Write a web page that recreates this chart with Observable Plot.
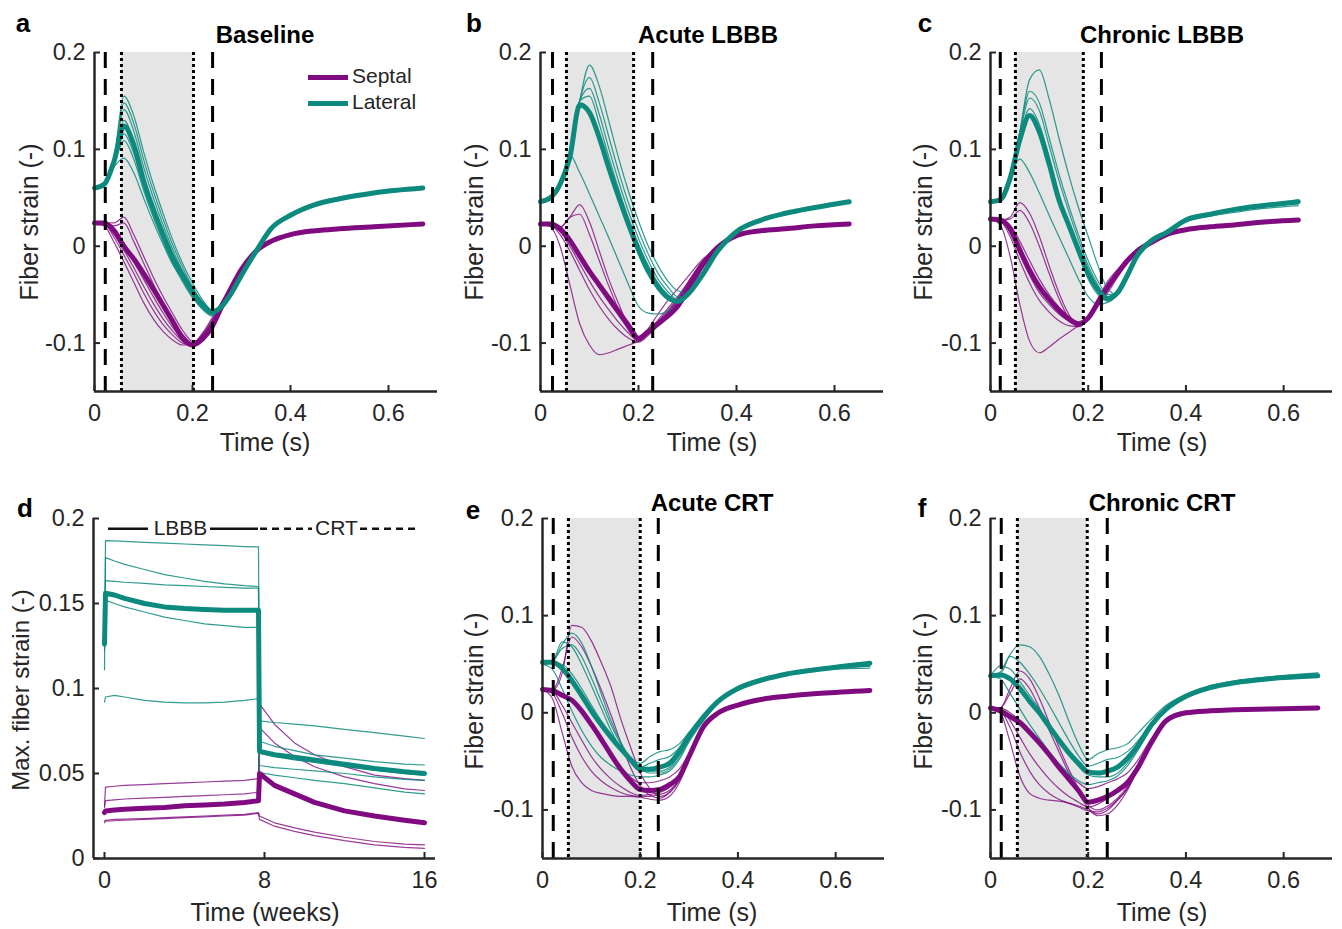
<!DOCTYPE html>
<html>
<head>
<meta charset="utf-8">
<script src="https://cdn.jsdelivr.net/npm/d3@7"></script>
<script src="https://cdn.jsdelivr.net/npm/@observablehq/plot@0.6"></script>
<style>
  html, body { margin: 0; padding: 0; background: #fff; }
  #root { position: relative; width: 1342px; height: 929px; background: #fff; overflow: hidden;
          font-family: 'Liberation Sans', Arial, Helvetica, sans-serif; color: #262626; }
  .lbl { position: absolute; white-space: nowrap; transform: translate(-50%, -50%); }
  .ylbl { position: absolute; white-space: nowrap; transform: translate(-50%, -50%) rotate(-90deg); }
  svg { position: absolute; }
</style>
</head>
<body>
<div id="root"></div>
<script>
// ---------------- DATA ----------------
const PURPLE = "#800a80";
const TEAL = "#0c8a7d";
const strainTicksX = [0, 0.2, 0.4, 0.6];
const strainTicksY = [-0.1, 0, 0.1, 0.2];
const strainDomainX = [0, 0.7];
const strainDomainY = [-0.15, 0.2];

// time grids (s)
const tA = [0,.02,.04,.06,.08,.10,.12,.14,.16,.18,.20,.22,.24,.26,.28,.30,.33,.36,.40,.45,.50,.57,.67];
const tB = [0,.02,.04,.06,.08,.10,.12,.14,.16,.18,.20,.22,.24,.26,.28,.30,.33,.36,.40,.45,.50,.56,.63];
const tC = tB;
const tE = tA;
const tF = tA;

// ---- a: Baseline
const aSeptMean = [0.024,0.024,0.016,0.000,-0.013,-0.028,-0.044,-0.061,-0.078,-0.095,-0.102,-0.096,-0.083,-0.062,-0.042,-0.024,-0.005,0.005,0.012,0.016,0.018,0.020,0.023];
const aLatMean  = [0.060,0.064,0.088,0.124,0.105,0.068,0.038,0.012,-0.012,-0.030,-0.047,-0.060,-0.068,-0.062,-0.048,-0.030,-0.005,0.018,0.032,0.043,0.049,0.055,0.060];
const aSeptThin = [
  [0.024,0.024,0.024,0.030,0.012,-0.010,-0.032,-0.052,-0.070,-0.087,-0.098,-0.094,-0.082,-0.060,-0.041,-0.023,-0.005,0.005,0.012,0.016,0.018,0.020,0.023],
  [0.024,0.024,0.021,0.024,0.005,-0.017,-0.039,-0.059,-0.076,-0.091,-0.100,-0.095,-0.081,-0.061,-0.041,-0.023,-0.005,0.005,0.012,0.016,0.018,0.020,0.023],
  [0.024,0.021,0.004,-0.016,-0.037,-0.058,-0.075,-0.088,-0.097,-0.102,-0.101,-0.092,-0.078,-0.058,-0.040,-0.023,-0.005,0.005,0.012,0.016,0.018,0.020,0.023],
  [0.024,0.023,0.009,-0.009,-0.028,-0.048,-0.066,-0.081,-0.092,-0.100,-0.102,-0.093,-0.078,-0.059,-0.040,-0.023,-0.005,0.005,0.012,0.016,0.018,0.020,0.023],
  [0.024,0.023,0.012,-0.004,-0.022,-0.041,-0.059,-0.075,-0.088,-0.098,-0.101,-0.091,-0.076,-0.058,-0.040,-0.023,-0.005,0.005,0.012,0.016,0.018,0.020,0.023],
  [0.024,0.024,0.015,0.001,-0.016,-0.034,-0.052,-0.069,-0.084,-0.096,-0.100,-0.090,-0.074,-0.057,-0.040,-0.023,-0.005,0.005,0.012,0.016,0.018,0.020,0.023]
];
const aLatThin = [
  [0.060,0.064,0.092,0.155,0.135,0.098,0.064,0.034,0.006,-0.018,-0.038,-0.055,-0.066,-0.061,-0.047,-0.029,-0.005,0.018,0.032,0.043,0.049,0.055,0.060],
  [0.060,0.064,0.091,0.148,0.127,0.090,0.057,0.028,0.001,-0.022,-0.042,-0.058,-0.068,-0.062,-0.048,-0.030,-0.005,0.018,0.032,0.043,0.049,0.055,0.060],
  [0.060,0.064,0.090,0.141,0.119,0.082,0.050,0.022,-0.004,-0.026,-0.045,-0.060,-0.070,-0.063,-0.048,-0.030,-0.005,0.018,0.032,0.043,0.049,0.055,0.060],
  [0.060,0.064,0.088,0.130,0.108,0.072,0.042,0.015,-0.010,-0.031,-0.049,-0.063,-0.071,-0.063,-0.048,-0.030,-0.005,0.018,0.032,0.043,0.049,0.055,0.060],
  [0.060,0.064,0.086,0.116,0.096,0.063,0.035,0.009,-0.015,-0.035,-0.052,-0.065,-0.072,-0.063,-0.048,-0.030,-0.005,0.018,0.032,0.043,0.049,0.055,0.060],
  [0.060,0.064,0.085,0.109,0.090,0.058,0.030,0.005,-0.018,-0.037,-0.053,-0.064,-0.070,-0.062,-0.048,-0.030,-0.005,0.018,0.032,0.043,0.049,0.055,0.060],
  [0.060,0.064,0.082,0.091,0.076,0.050,0.025,0.002,-0.019,-0.033,-0.044,-0.058,-0.066,-0.060,-0.047,-0.029,-0.005,0.018,0.032,0.043,0.049,0.055,0.060]
];
const aDashed = [0.022, 0.241];
const aDotted = [0.055, 0.202];

// ---- b: Acute LBBB
const bSeptMean = [0.023,0.023,0.018,0.006,-0.010,-0.026,-0.040,-0.054,-0.068,-0.082,-0.095,-0.088,-0.080,-0.072,-0.062,-0.046,-0.020,-0.002,0.011,0.016,0.018,0.021,0.023];
const bLatMean  = [0.046,0.050,0.064,0.092,0.146,0.138,0.112,0.080,0.050,0.022,-0.004,-0.026,-0.042,-0.053,-0.057,-0.050,-0.030,-0.006,0.015,0.027,0.034,0.040,0.046];
const bSeptThin = [
  [0.023,0.023,0.020,0.030,0.043,0.025,-0.005,-0.035,-0.060,-0.083,-0.096,-0.088,-0.076,-0.064,-0.052,-0.038,-0.016,-0.002,0.011,0.016,0.018,0.021,0.023],
  [0.023,0.023,0.019,0.030,0.033,0.012,-0.015,-0.042,-0.066,-0.087,-0.098,-0.090,-0.080,-0.068,-0.056,-0.040,-0.017,-0.002,0.011,0.016,0.018,0.021,0.023],
  [0.023,0.020,0.000,-0.040,-0.080,-0.102,-0.112,-0.110,-0.106,-0.102,-0.098,-0.090,-0.080,-0.068,-0.055,-0.040,-0.017,-0.002,0.011,0.016,0.018,0.021,0.023],
  [0.023,0.022,0.012,-0.005,-0.025,-0.045,-0.062,-0.076,-0.087,-0.095,-0.099,-0.092,-0.082,-0.070,-0.057,-0.040,-0.017,-0.002,0.011,0.016,0.018,0.021,0.023],
  [0.023,0.022,0.015,0.000,-0.018,-0.036,-0.052,-0.066,-0.079,-0.090,-0.098,-0.090,-0.078,-0.066,-0.054,-0.038,-0.016,-0.002,0.011,0.016,0.018,0.021,0.023],
  [0.023,0.023,0.017,0.004,-0.012,-0.028,-0.043,-0.058,-0.072,-0.086,-0.096,-0.085,-0.070,-0.056,-0.044,-0.032,-0.014,-0.002,0.011,0.016,0.018,0.021,0.023]
];
const bLatThin = [
  [0.046,0.050,0.064,0.092,0.150,0.187,0.165,0.128,0.090,0.056,0.026,0.000,-0.020,-0.036,-0.046,-0.048,-0.030,-0.006,0.015,0.027,0.034,0.040,0.046],
  [0.046,0.050,0.064,0.092,0.150,0.174,0.148,0.112,0.076,0.044,0.016,-0.008,-0.028,-0.042,-0.052,-0.050,-0.030,-0.006,0.015,0.027,0.034,0.040,0.046],
  [0.046,0.050,0.064,0.092,0.150,0.163,0.136,0.100,0.066,0.035,0.008,-0.015,-0.034,-0.047,-0.055,-0.050,-0.030,-0.006,0.015,0.027,0.034,0.040,0.046],
  [0.046,0.050,0.064,0.092,0.150,0.155,0.126,0.091,0.058,0.028,0.002,-0.020,-0.038,-0.050,-0.057,-0.050,-0.030,-0.006,0.015,0.027,0.034,0.040,0.046],
  [0.046,0.050,0.066,0.094,0.076,0.054,0.031,0.008,-0.016,-0.040,-0.062,-0.069,-0.070,-0.067,-0.060,-0.050,-0.030,-0.006,0.015,0.027,0.034,0.040,0.046]
];
const bDashed = [0.0245, 0.229];
const bDotted = [0.053, 0.19];

// ---- c: Chronic LBBB
const cSeptMean = [0.028,0.027,0.018,-0.004,-0.025,-0.042,-0.055,-0.066,-0.075,-0.080,-0.074,-0.058,-0.042,-0.028,-0.015,-0.005,0.004,0.012,0.017,0.020,0.022,0.025,0.027];
const cLatMean  = [0.046,0.048,0.070,0.110,0.135,0.118,0.085,0.048,0.022,-0.004,-0.028,-0.045,-0.054,-0.048,-0.030,-0.010,0.006,0.014,0.027,0.033,0.038,0.042,0.046];
const cSeptThin = [
  [0.028,0.027,0.030,0.045,0.034,0.010,-0.020,-0.048,-0.070,-0.082,-0.076,-0.060,-0.044,-0.030,-0.016,-0.006,0.004,0.012,0.017,0.020,0.022,0.025,0.027],
  [0.028,0.027,0.028,0.037,0.024,0.000,-0.028,-0.054,-0.074,-0.083,-0.076,-0.060,-0.044,-0.030,-0.016,-0.006,0.004,0.012,0.017,0.020,0.022,0.025,0.027],
  [0.028,0.022,-0.010,-0.060,-0.098,-0.110,-0.104,-0.096,-0.089,-0.082,-0.075,-0.060,-0.045,-0.030,-0.016,-0.006,0.004,0.012,0.017,0.020,0.022,0.025,0.027],
  [0.028,0.026,0.010,-0.015,-0.038,-0.056,-0.068,-0.077,-0.082,-0.083,-0.076,-0.062,-0.048,-0.032,-0.017,-0.006,0.004,0.012,0.017,0.020,0.022,0.025,0.027],
  [0.028,0.027,0.015,-0.008,-0.030,-0.048,-0.060,-0.070,-0.077,-0.081,-0.075,-0.056,-0.040,-0.027,-0.014,-0.005,0.004,0.012,0.017,0.020,0.022,0.025,0.027],
  [0.028,0.027,0.022,0.005,-0.015,-0.034,-0.050,-0.063,-0.073,-0.080,-0.074,-0.054,-0.036,-0.024,-0.013,-0.004,0.004,0.012,0.017,0.020,0.022,0.025,0.027]
];
const cLatThin = [
  [0.046,0.048,0.068,0.118,0.172,0.182,0.152,0.112,0.074,0.040,0.010,-0.020,-0.044,-0.050,-0.034,-0.013,0.004,0.013,0.025,0.031,0.035,0.039,0.042],
  [0.046,0.048,0.070,0.118,0.160,0.148,0.112,0.075,0.042,0.012,-0.015,-0.036,-0.050,-0.048,-0.031,-0.011,0.005,0.014,0.026,0.032,0.037,0.041,0.044],
  [0.046,0.048,0.070,0.115,0.153,0.140,0.104,0.068,0.036,0.007,-0.020,-0.040,-0.053,-0.049,-0.031,-0.011,0.005,0.014,0.027,0.033,0.038,0.042,0.046],
  [0.046,0.048,0.072,0.090,0.076,0.055,0.032,0.010,-0.012,-0.034,-0.052,-0.060,-0.058,-0.050,-0.034,-0.012,0.004,0.013,0.026,0.032,0.037,0.041,0.044],
  [0.046,0.048,0.070,0.112,0.142,0.126,0.092,0.054,0.022,-0.008,-0.034,-0.050,-0.057,-0.050,-0.032,-0.011,0.005,0.014,0.027,0.033,0.038,0.043,0.048]
];
const cDashed = [0.02, 0.227];
const cDotted = [0.051, 0.19];

// ---- e: Acute CRT
const eSeptMean = [0.024,0.023,0.018,0.013,0.002,-0.012,-0.027,-0.043,-0.058,-0.070,-0.079,-0.080,-0.079,-0.074,-0.066,-0.045,-0.014,0.000,0.008,0.014,0.017,0.020,0.023];
const eLatMean  = [0.052,0.052,0.046,0.033,0.018,0.002,-0.012,-0.025,-0.037,-0.048,-0.058,-0.058,-0.056,-0.052,-0.040,-0.024,-0.004,0.012,0.025,0.034,0.040,0.045,0.051];
const eSeptThin = [
  [0.024,0.023,0.040,0.090,0.088,0.074,0.052,0.027,-0.006,-0.035,-0.062,-0.078,-0.086,-0.082,-0.068,-0.046,-0.015,0.000,0.008,0.014,0.017,0.020,0.023],
  [0.024,0.023,0.045,0.078,0.068,0.048,0.024,-0.002,-0.030,-0.056,-0.075,-0.085,-0.088,-0.082,-0.070,-0.048,-0.015,0.000,0.008,0.014,0.017,0.020,0.023],
  [0.024,0.015,-0.020,-0.055,-0.072,-0.080,-0.083,-0.085,-0.086,-0.086,-0.087,-0.089,-0.090,-0.086,-0.072,-0.048,-0.015,0.000,0.008,0.014,0.017,0.020,0.023],
  [0.024,0.020,0.000,-0.025,-0.045,-0.060,-0.070,-0.077,-0.082,-0.085,-0.086,-0.086,-0.084,-0.080,-0.068,-0.046,-0.015,0.000,0.008,0.014,0.017,0.020,0.023],
  [0.024,0.022,0.008,-0.010,-0.028,-0.045,-0.058,-0.068,-0.076,-0.082,-0.085,-0.084,-0.082,-0.077,-0.066,-0.045,-0.015,0.000,0.008,0.014,0.017,0.020,0.023],
  [0.024,0.023,0.020,0.012,0.000,-0.014,-0.028,-0.042,-0.055,-0.066,-0.072,-0.072,-0.070,-0.066,-0.058,-0.042,-0.014,0.000,0.008,0.014,0.017,0.020,0.023]
];
const eLatThin = [
  [0.050,0.052,0.070,0.082,0.072,0.048,0.020,-0.008,-0.030,-0.046,-0.052,-0.045,-0.040,-0.038,-0.032,-0.020,-0.003,0.012,0.025,0.034,0.040,0.045,0.050],
  [0.050,0.052,0.073,0.068,0.050,0.028,0.005,-0.018,-0.036,-0.050,-0.056,-0.052,-0.048,-0.045,-0.036,-0.022,-0.004,0.012,0.025,0.034,0.040,0.045,0.048],
  [0.050,0.053,0.066,0.070,0.058,0.036,0.012,-0.012,-0.032,-0.048,-0.056,-0.060,-0.060,-0.056,-0.044,-0.026,-0.005,0.011,0.024,0.033,0.039,0.044,0.046],
  [0.050,0.045,0.025,0.002,-0.018,-0.034,-0.046,-0.054,-0.060,-0.064,-0.066,-0.066,-0.064,-0.060,-0.048,-0.030,-0.008,0.010,0.024,0.033,0.039,0.044,0.048],
  [0.050,0.051,0.050,0.040,0.025,0.008,-0.008,-0.022,-0.036,-0.048,-0.058,-0.062,-0.062,-0.058,-0.046,-0.028,-0.006,0.011,0.025,0.034,0.040,0.045,0.050]
];
const eDashed = [0.022, 0.237];
const eDotted = [0.053, 0.2];

// ---- f: Chronic CRT
const fSeptMean = [0.005,0.002,-0.004,-0.010,-0.020,-0.031,-0.043,-0.056,-0.068,-0.080,-0.092,-0.090,-0.086,-0.080,-0.072,-0.058,-0.030,-0.008,0.000,0.002,0.003,0.004,0.005];
const fLatMean  = [0.038,0.039,0.035,0.025,0.012,0.000,-0.014,-0.028,-0.041,-0.052,-0.061,-0.062,-0.060,-0.056,-0.047,-0.035,-0.012,0.004,0.017,0.026,0.031,0.035,0.038];
const fSeptThin = [
  [0.005,0.005,0.025,0.043,0.035,0.015,-0.010,-0.035,-0.058,-0.078,-0.095,-0.100,-0.096,-0.088,-0.076,-0.060,-0.030,-0.008,0.000,0.002,0.003,0.004,0.005],
  [0.005,0.005,0.020,0.035,0.025,0.005,-0.018,-0.040,-0.062,-0.082,-0.098,-0.104,-0.100,-0.090,-0.078,-0.060,-0.030,-0.008,0.000,0.002,0.003,0.004,0.005],
  [0.005,0.000,-0.030,-0.065,-0.083,-0.088,-0.090,-0.091,-0.093,-0.096,-0.100,-0.106,-0.104,-0.095,-0.080,-0.060,-0.030,-0.008,0.000,0.002,0.003,0.004,0.005],
  [0.005,0.002,-0.015,-0.040,-0.060,-0.074,-0.083,-0.089,-0.093,-0.097,-0.101,-0.102,-0.098,-0.090,-0.078,-0.060,-0.030,-0.008,0.000,0.002,0.003,0.004,0.005],
  [0.005,0.004,-0.008,-0.025,-0.042,-0.056,-0.068,-0.078,-0.086,-0.092,-0.097,-0.094,-0.088,-0.080,-0.072,-0.058,-0.030,-0.008,0.000,0.002,0.003,0.004,0.005],
  [0.005,0.005,0.000,-0.008,-0.018,-0.030,-0.042,-0.054,-0.064,-0.072,-0.078,-0.076,-0.072,-0.068,-0.062,-0.050,-0.026,-0.008,0.000,0.002,0.003,0.004,0.005]
];
const fLatThin = [
  [0.038,0.040,0.060,0.070,0.068,0.058,0.040,0.018,-0.008,-0.032,-0.048,-0.042,-0.038,-0.036,-0.032,-0.022,-0.006,0.008,0.019,0.028,0.033,0.037,0.041],
  [0.038,0.042,0.058,0.052,0.040,0.025,0.008,-0.010,-0.028,-0.044,-0.055,-0.052,-0.048,-0.046,-0.040,-0.030,-0.010,0.005,0.018,0.027,0.032,0.036,0.040],
  [0.038,0.048,0.045,0.032,0.018,0.004,-0.012,-0.028,-0.042,-0.055,-0.064,-0.066,-0.066,-0.062,-0.052,-0.038,-0.014,0.003,0.016,0.025,0.030,0.034,0.037],
  [0.038,0.035,0.020,0.004,-0.012,-0.026,-0.040,-0.052,-0.062,-0.070,-0.074,-0.072,-0.070,-0.065,-0.055,-0.040,-0.015,0.002,0.016,0.025,0.030,0.034,0.037]
];
const fDashed = [0.022, 0.239];
const fDotted = [0.055, 0.198];

// ---- d: Max. fiber strain over weeks
const dWeeks = [0, 0.05, 0.5, 1, 2, 3, 4, 5, 6, 7, 7.7, 7.75, 8.5, 9.5, 10.5, 12, 13.5, 15, 16];
const dLatMean  = [0.126,0.156,0.155,0.153,0.150,0.148,0.147,0.1465,0.146,0.146,0.146,0.063,0.061,0.0595,0.058,0.0555,0.053,0.051,0.050];
const dSeptMean = [0.027,0.028,0.0285,0.029,0.0295,0.030,0.031,0.0315,0.032,0.033,0.034,0.050,0.043,0.038,0.033,0.028,0.025,0.0225,0.021];
const dLatThin = [
  [0.111,0.187,0.1868,0.1865,0.186,0.1855,0.185,0.1845,0.184,0.1835,0.1833,0.081,0.080,0.079,0.078,0.076,0.074,0.072,0.0706],
  [0.125,0.177,0.175,0.173,0.170,0.167,0.165,0.163,0.1615,0.1605,0.160,0.069,0.066,0.0635,0.061,0.059,0.057,0.0555,0.055],
  [0.128,0.1635,0.163,0.1625,0.1618,0.161,0.1605,0.160,0.1595,0.159,0.159,0.0547,0.0535,0.0525,0.0515,0.050,0.048,0.0465,0.046],
  [0.122,0.152,0.150,0.148,0.145,0.142,0.140,0.138,0.137,0.136,0.136,0.0506,0.049,0.0475,0.046,0.044,0.0415,0.039,0.038],
  [0.092,0.095,0.096,0.095,0.093,0.092,0.0915,0.0915,0.092,0.093,0.094,0.062,0.060,0.058,0.0565,0.054,0.052,0.050,0.049]
];
const dSeptThin = [
  [0.031,0.042,0.0425,0.043,0.0435,0.044,0.0445,0.045,0.0455,0.046,0.047,0.091,0.079,0.068,0.061,0.054,0.049,0.047,0.046],
  [0.030,0.034,0.0345,0.035,0.0355,0.036,0.0365,0.037,0.0375,0.038,0.039,0.077,0.068,0.060,0.054,0.048,0.044,0.041,0.040],
  [0.022,0.0225,0.023,0.0232,0.0235,0.024,0.0245,0.025,0.0255,0.026,0.027,0.025,0.021,0.018,0.0155,0.0125,0.010,0.0085,0.008],
  [0.021,0.022,0.0222,0.0225,0.023,0.0235,0.024,0.0245,0.025,0.0255,0.0265,0.023,0.019,0.016,0.0135,0.0105,0.008,0.0065,0.006]
];
const dTicksX = [0, 8, 16];
const dTicksY = [0, 0.05, 0.1, 0.15, 0.2];
const dDomainX = [-0.55, 16.55];
const dDomainY = [0, 0.2];
const dPhaseY = 0.194;
const dSolidSegs = [[0.2, 2.2], [5.3, 7.7]];
const dDashSegs = [[7.8, 10.4], [12.8, 15.55]];
const dPhaseLabels = [{w: 3.8, text: "LBBB"}, {w: 11.6, text: "CRT"}];

// ---------------- DRAWING ----------------
const root = document.getElementById("root");
const AX = "#262626";
const FONT = "'Liberation Sans', Arial, Helvetica, sans-serif";

function rows(t, series, key) {
  return series.flatMap((vals, i) => vals.map((v, j) => ({t: t[j], v, k: key + i})));
}

function frameSvg(frame, xDomain, yDomain, marks, xTicks, yTicks) {
  const [fl, ft, fr, fb] = frame;
  const ML = 94, MT = 50, MR = 8, MB = 60;
  const fw = fr - fl, fh = fb - ft;
  const fmt = d => String(+d.toFixed(3));
  const svg = Plot.plot({
    width: fw + ML + MR,
    height: fh + MT + MB,
    marginLeft: ML, marginRight: MR, marginTop: MT, marginBottom: MB,
    x: {domain: xDomain},
    y: {domain: yDomain},
    style: {background: "transparent", fontFamily: FONT, fontSize: "23px", color: AX, overflow: "visible"},
    marks: [
      ...marks,
      Plot.ruleY([yDomain[0]], {stroke: AX, strokeWidth: 2.5}),
      Plot.ruleX([xDomain[0]], {stroke: AX, strokeWidth: 2.5}),
      Plot.ruleX(xTicks, {x: d => d, insetTop: fh - 6, stroke: AX, strokeWidth: 2}),
      Plot.ruleY(yTicks, {y: d => d, insetRight: fw - 6, stroke: AX, strokeWidth: 2}),
      Plot.axisX({ticks: xTicks, tickSize: 0, tickPadding: 13, tickFormat: fmt, label: null, fontSize: 23.5, fill: AX}),
      Plot.axisY({ticks: yTicks, tickSize: 0, tickPadding: 9, tickFormat: fmt, label: null, fontSize: 23.5, fill: AX})
    ]
  });
  svg.style.left = (fl - ML) + "px";
  svg.style.top = (ft - MT) + "px";
  root.appendChild(svg);
}

function strainPanel(frame, t, septMean, latMean, septThin, latThin, dashed, dotted) {
  const marks = [
    Plot.rect([dotted], {x1: d => d[0], x2: d => d[1], y1: strainDomainY[0], y2: strainDomainY[1], fill: "#e5e5e5"}),
    Plot.line(rows(t, septThin, "s"), {x: "t", y: "v", z: "k", stroke: PURPLE, strokeWidth: 1.2, curve: "monotone-x", strokeOpacity: 0.8}),
    Plot.line(rows(t, latThin, "l"), {x: "t", y: "v", z: "k", stroke: TEAL, strokeWidth: 1.2, curve: "monotone-x", strokeOpacity: 0.85}),
    Plot.line(rows(t, [septMean], "S"), {x: "t", y: "v", z: "k", stroke: PURPLE, strokeWidth: 5, curve: "monotone-x", strokeLinejoin: "round"}),
    Plot.line(rows(t, [latMean], "L"), {x: "t", y: "v", z: "k", stroke: TEAL, strokeWidth: 5, curve: "monotone-x", strokeLinejoin: "round"}),
    Plot.ruleX(dashed, {x: d => d, stroke: "#000", strokeWidth: 3, strokeDasharray: "16,11"}),
    Plot.ruleX(dotted, {x: d => d, stroke: "#000", strokeWidth: 3, strokeDasharray: "3,3"})
  ];
  frameSvg(frame, strainDomainX, strainDomainY, marks, strainTicksX, strainTicksY);
}

strainPanel([94, 52, 437, 391], tA, aSeptMean, aLatMean, aSeptThin, aLatThin, aDashed, aDotted);
strainPanel([540, 52, 883, 391], tB, bSeptMean, bLatMean, bSeptThin, bLatThin, bDashed, bDotted);
strainPanel([990, 52, 1332, 391], tC, cSeptMean, cLatMean, cSeptThin, cLatThin, cDashed, cDotted);
strainPanel([542, 518, 884, 858], tE, eSeptMean, eLatMean, eSeptThin, eLatThin, eDashed, eDotted);
strainPanel([990, 518, 1332, 858], tF, fSeptMean, fLatMean, fSeptThin, fLatThin, fDashed, fDotted);

// panel d
{
  const marks = [
    Plot.line(rows(dWeeks, dSeptThin, "s"), {x: "t", y: "v", z: "k", stroke: PURPLE, strokeWidth: 1.2, strokeOpacity: 0.8}),
    Plot.line(rows(dWeeks, dLatThin, "l"), {x: "t", y: "v", z: "k", stroke: TEAL, strokeWidth: 1.2, strokeOpacity: 0.85}),
    Plot.line(rows(dWeeks, [dSeptMean], "S"), {x: "t", y: "v", z: "k", stroke: PURPLE, strokeWidth: 5}),
    Plot.line(rows(dWeeks, [dLatMean], "L"), {x: "t", y: "v", z: "k", stroke: TEAL, strokeWidth: 5}),
    Plot.ruleY(dSolidSegs, {y: dPhaseY, x1: d => d[0], x2: d => d[1], stroke: "#111", strokeWidth: 2.5}),
    Plot.ruleY(dDashSegs, {y: dPhaseY, x1: d => d[0], x2: d => d[1], stroke: "#111", strokeWidth: 2.5, strokeDasharray: "7,5"}),
    Plot.text(dPhaseLabels, {x: "w", y: dPhaseY, text: "text", fontSize: 21, fill: "#222"})
  ];
  frameSvg([93, 518, 435, 858], dDomainX, dDomainY, marks, dTicksX, dTicksY);
}

// ---------------- TEXT ----------------
function label(text, x, y, style, cls = "lbl") {
  const el = document.createElement("div");
  el.className = cls;
  el.textContent = text;
  el.style.left = x + "px";
  el.style.top = y + "px";
  Object.assign(el.style, style);
  root.appendChild(el);
}
const letterStyle = {fontWeight: "bold", fontSize: "26px", color: "#000"};
const titleStyle = {fontWeight: "bold", fontSize: "24px", color: "#000"};
const axStyle = {fontSize: "25px", color: AX};

label("a", 23, 23, letterStyle);
label("b", 474, 23, letterStyle);
label("c", 925, 23, letterStyle);
label("d", 25, 508, letterStyle);
label("e", 473, 510, letterStyle);
label("f", 922, 508, letterStyle);

label("Baseline", 265, 35, titleStyle);
label("Acute LBBB", 708, 35, titleStyle);
label("Chronic LBBB", 1162, 35, titleStyle);
label("Acute CRT", 712, 503, titleStyle);
label("Chronic CRT", 1162, 503, titleStyle);

label("Time (s)", 265, 442, axStyle);
label("Time (s)", 712, 442, axStyle);
label("Time (s)", 1162, 442, axStyle);
label("Time (weeks)", 265, 912, axStyle);
label("Time (s)", 712, 912, axStyle);
label("Time (s)", 1162, 912, axStyle);

label("Fiber strain (-)", 29, 222, axStyle, "ylbl");
label("Fiber strain (-)", 474, 222, axStyle, "ylbl");
label("Fiber strain (-)", 923, 222, axStyle, "ylbl");
label("Max. fiber strain (-)", 21, 690, {fontSize: "24px", color: AX}, "ylbl");
label("Fiber strain (-)", 474, 691, axStyle, "ylbl");
label("Fiber strain (-)", 923, 691, axStyle, "ylbl");

// legend (panel a)
const legend = [{name: "Septal", color: PURPLE, y: 77}, {name: "Lateral", color: TEAL, y: 103}];
for (const item of legend) {
  const sw = document.createElement("div");
  Object.assign(sw.style, {position: "absolute", left: "308px", top: (item.y - 2.5) + "px", width: "40px", height: "5px", background: item.color});
  root.appendChild(sw);
  const tx = document.createElement("div");
  tx.textContent = item.name;
  Object.assign(tx.style, {position: "absolute", left: "352px", top: (item.y - 13) + "px", fontSize: "21px", color: AX, whiteSpace: "nowrap"});
  root.appendChild(tx);
}
</script>
</body>
</html>
